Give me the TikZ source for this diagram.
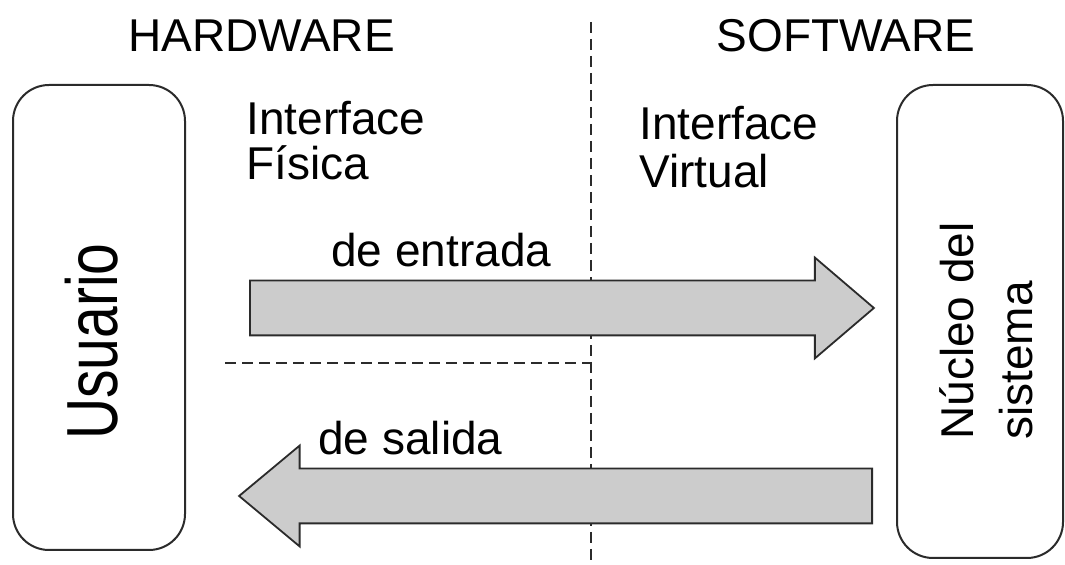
\documentclass[tikz,border=0pt]{standalone}
\usepackage{graphicx}
\usepackage{fontspec}
\setmainfont{Liberation Sans}
\usetikzlibrary{shapes.arrows}
\definecolor{gris}{HTML}{CCCCCC}
\definecolor{borde}{HTML}{2B2B2B}
\tikzstyle{caja} = [rectangle, rounded corners=18pt,
minimum width=86pt,
minimum height=232.5pt,
inner sep=0pt,
draw=borde,
line width=1pt]
\tikzstyle{flecha} = [single arrow,
single arrow head extend=11.5pt,
single arrow head indent=0pt,
inner xsep=0pt, inner ysep=13.25pt,
minimum width=0pt,
anchor=tail,
draw=borde, fill=gris,
line width=0.9pt]
\tikzstyle{texto} = [inner sep=0pt,
font=\fontsize{23pt}{22.5pt}\selectfont]
\tikzstyle{division} = [draw=borde, line width=1pt, dash pattern=on 5.5pt off 3pt]

\begin{document}
\begin{tikzpicture}[x=0.5pt, y=-0.5pt]
			\useasboundingbox (0,0) rectangle (1065,565);
			% lineas de division
			\coordinate (arriba) at (591,22);
			\coordinate (abajo) at (591,565);
			\coordinate (izq) at (225,363);
			\coordinate (cruce) at (591,363);
			\draw[division] (arriba) -- (abajo);
			\draw[division] (izq) -- (cruce);

			\node (hw) [texto, anchor=base] at (261.5,52) {HARDWARE};
			\node (sw) [texto, anchor=base] at (846,52) {SOFTWARE};

			\node (usuario) [caja] at (99,317.5) {};
			\node (nucleo) [caja, minimum width=83pt, minimum height=236.5pt] at (980,321.5) {};
			\node (tusuario) [texto, rotate=90, anchor=base, font=\fontsize{28.5pt}{30pt}\selectfont] at (117,341.5) {\scalebox{1}[1.27]{Usuario}};
			\node (tnucleo) [texto, rotate=90, anchor=base west, align=left, font=\fontsize{23pt}{29.5pt}\selectfont] at (1032,440) {Núcleo del\\sistema};

			\node (ifisica) [texto, anchor=base west, align=left] at (246,180) {Interface\\Física};
			\node (ivirtual) [texto, anchor=base west, align=left, font=\fontsize{23pt}{24pt}\selectfont] at (639,188) {Interface\\Virtual};

			\node (entrada) [flecha, minimum height=312pt, single arrow tip angle=81] at (249,308) {};
			\node (salida) [flecha, minimum height=316.5pt, single arrow tip angle=79.6, shape border rotate=180] at (873,496) {};
			\node (lentrada) [texto, anchor=base west] at (331,267) {de entrada};
			\node (lsalida) [texto, anchor=base west] at (318,455) {de salida};
		\end{tikzpicture}
\end{document}
